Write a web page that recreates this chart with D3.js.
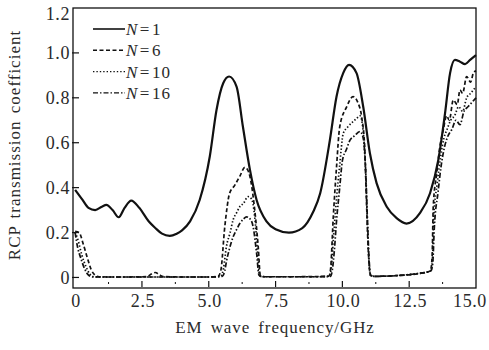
<!DOCTYPE html>
<html>
<head>
<meta charset="utf-8">
<script src="https://cdn.jsdelivr.net/npm/d3@7"></script>
<style>
  body { margin: 0; background: #fff; }
</style>
</head>
<body>
<svg id="chart" width="489" height="350" font-family="'Liberation Serif', 'Times New Roman', Times, serif"></svg>
<script>
// N=1 (solid)
const freq1 = [0,0.25,0.5,0.75,1.0,1.17,1.4,1.63,1.85,2.1,2.4,2.75,3.0,3.25,3.54,3.8,4.0,4.3,4.66,5.04,5.29,5.54,5.76,6.04,6.28,6.54,6.79,7.16,7.5,8.0,8.5,8.9,9.17,9.53,9.78,10.03,10.25,10.53,10.78,11.03,11.28,11.66,12.03,12.4,12.9,13.28,13.59,13.84,14.03,14.21,14.4,14.59,14.78,15];
const val1 = [0.39,0.35,0.31,0.30,0.315,0.323,0.30,0.268,0.31,0.342,0.31,0.25,0.22,0.195,0.185,0.195,0.21,0.25,0.345,0.54,0.746,0.865,0.895,0.85,0.67,0.48,0.345,0.25,0.215,0.2,0.22,0.29,0.375,0.61,0.805,0.91,0.947,0.91,0.76,0.553,0.42,0.315,0.264,0.24,0.286,0.375,0.523,0.73,0.91,0.969,0.961,0.95,0.969,0.99];

// N=6 (dashed)
const freq6 = [0,0.15,0.3,0.45,0.6,0.75,0.9,1.2,2.0,2.7,2.85,3.0,3.15,3.3,4.0,5.0,5.35,5.45,5.6,5.78,5.97,6.16,6.35,6.45,6.54,6.72,6.85,6.93,7.1,8.0,9.0,9.5,9.56,9.66,9.78,9.9,10.16,10.4,10.59,10.72,10.84,10.9,10.97,11.05,11.2,12.0,13.0,13.3,13.36,13.4,13.53,13.65,13.78,13.9,14.0,14.15,14.3,14.4,14.5,14.65,14.8,14.9,15];
const val6 = [0.205,0.2,0.15,0.09,0.035,0.01,0.003,0.002,0.002,0.004,0.015,0.022,0.012,0.004,0.002,0.002,0.005,0.03,0.226,0.375,0.41,0.45,0.49,0.48,0.45,0.3,0.137,0.01,0.003,0.003,0.004,0.006,0.04,0.27,0.49,0.67,0.76,0.805,0.776,0.716,0.568,0.345,0.12,0.01,0.005,0.008,0.02,0.03,0.1,0.315,0.464,0.583,0.66,0.72,0.70,0.79,0.77,0.835,0.82,0.894,0.87,0.91,0.92];

// N=10 (dotted)
const freq10 = [0,0.1,0.25,0.4,0.55,0.7,1.0,5.0,5.45,5.55,5.66,5.8,5.91,6.05,6.16,6.3,6.47,6.6,6.72,6.82,6.9,7.0,9.0,9.5,9.57,9.68,9.78,9.9,10.03,10.2,10.4,10.55,10.66,10.75,10.85,10.92,10.98,11.05,11.2,13.0,13.3,13.37,13.42,13.55,13.68,13.8,13.92,14.05,14.2,14.35,14.5,14.65,14.8,15];
const val10 = [0.2,0.17,0.1,0.05,0.015,0.003,0.002,0.002,0.005,0.04,0.137,0.2,0.256,0.29,0.315,0.33,0.36,0.35,0.27,0.12,0.01,0.003,0.003,0.005,0.03,0.2,0.35,0.5,0.64,0.67,0.694,0.71,0.72,0.68,0.52,0.3,0.1,0.01,0.005,0.02,0.03,0.08,0.27,0.42,0.54,0.62,0.66,0.7,0.72,0.76,0.74,0.8,0.82,0.85];

// N=16 (dash-dot)
const freq16 = [0,0.1,0.2,0.35,0.5,0.65,1.0,5.0,5.5,5.6,5.66,5.78,5.91,6.05,6.16,6.3,6.41,6.55,6.66,6.79,6.88,7.0,9.0,9.55,9.62,9.7,9.78,9.9,10.0,10.15,10.28,10.45,10.66,10.78,10.87,10.94,11.0,11.06,11.2,13.0,13.32,13.38,13.44,13.58,13.7,13.82,13.95,14.1,14.25,14.4,14.55,14.7,14.85,15];
const val16 = [0.2,0.13,0.09,0.04,0.01,0.002,0.002,0.002,0.005,0.03,0.07,0.13,0.18,0.215,0.24,0.26,0.27,0.26,0.226,0.108,0.01,0.003,0.003,0.005,0.03,0.12,0.25,0.4,0.52,0.57,0.61,0.63,0.65,0.62,0.48,0.25,0.08,0.01,0.005,0.02,0.03,0.06,0.22,0.38,0.5,0.58,0.63,0.66,0.7,0.68,0.74,0.76,0.78,0.8];

const xTicks = [0, 2.5, 5.0, 7.5, 10.0, 12.5, 15.0];
const xMinorTicks = [1.25, 3.75, 6.25, 8.75, 11.25, 13.75];
const yTicks = [0, 0.2, 0.4, 0.6, 0.8, 1.0, 1.2];
const legendNames = ["1", "6", "10", "16"];

const plotLeft = 73, plotRight = 476, plotTop = 8, plotBottom = 288;
const textColor = "#2a2a2a";

const svg = d3.select("#chart");

const x = d3.scaleLinear().domain([-0.08, 15]).range([plotLeft, plotRight]);
const y = d3.scaleLinear().domain([-0.047, 1.2]).range([plotBottom, plotTop]);

const series = [
  { name: legendNames[0], f: freq1, v: val1, dash: null, w: 2.2 },
  { name: legendNames[1], f: freq6, v: val6, dash: "4,2.5", w: 1.7 },
  { name: legendNames[2], f: freq10, v: val10, dash: "1.4,2", w: 1.7 },
  { name: legendNames[3], f: freq16, v: val16, dash: "5,2,1.5,2", w: 1.7 }
];

const line = d3.line()
  .x(d => x(d[0]))
  .y(d => y(d[1]))
  .curve(d3.curveMonotoneX);

// curves (noisy ones first, solid on top)
const curves = svg.append("g");
series.slice().reverse().forEach(s => {
  curves.append("path")
    .datum(d3.zip(s.f, s.v))
    .attr("d", line)
    .attr("fill", "none")
    .attr("stroke", "#111")
    .attr("stroke-width", s.w)
    .attr("stroke-dasharray", s.dash);
});

// frame
svg.append("rect")
  .attr("x", plotLeft).attr("y", plotTop)
  .attr("width", plotRight - plotLeft).attr("height", plotBottom - plotTop)
  .attr("fill", "none").attr("stroke", "#111").attr("stroke-width", 1.3);

// y axis ticks + labels
const yAxis = svg.append("g");
yTicks.forEach(t => {
  if (t < 1.2) {
    yAxis.append("line")
      .attr("x1", plotLeft - 1).attr("x2", plotLeft + 6)
      .attr("y1", y(t)).attr("y2", y(t))
      .attr("stroke", "#111").attr("stroke-width", 1.2);
  }
  yAxis.append("text")
    .attr("x", 70)
    .attr("y", t === 1.2 ? y(t) + 6 : y(t))
    .attr("dy", "0.35em")
    .attr("text-anchor", "end")
    .attr("fill", textColor)
    .attr("font-size", 18)
    .attr("letter-spacing", 0.6)
    .text(t === 0 ? "0" : d3.format(".1f")(t));
});

// x axis ticks + labels
const xAxis = svg.append("g");
xTicks.slice(1, -1).forEach(t => {
  xAxis.append("line")
    .attr("x1", x(t)).attr("x2", x(t))
    .attr("y1", plotBottom - 1).attr("y2", plotBottom - 7)
    .attr("stroke", "#111").attr("stroke-width", 1.2);
});
xMinorTicks.forEach(t => {
  xAxis.append("line")
    .attr("x1", x(t)).attr("x2", x(t))
    .attr("y1", plotBottom - 4).attr("y2", plotBottom - 6)
    .attr("stroke", "#111").attr("stroke-width", 1);
});
xTicks.forEach(t => {
  xAxis.append("text")
    .attr("x", t === 15 ? x(t) - 6 : x(t) + 1)
    .attr("y", 307)
    .attr("text-anchor", "middle")
    .attr("fill", textColor)
    .attr("font-size", 18)
    .attr("letter-spacing", 0.6)
    .text(t === 0 ? "0" : d3.format(".1f")(t));
});

// axis titles
svg.append("text")
  .attr("x", 275).attr("y", 333)
  .attr("text-anchor", "middle")
  .attr("fill", textColor)
  .attr("font-size", 17)
  .attr("letter-spacing", 0.9)
  .attr("word-spacing", 3)
  .text("EM wave frequency/GHz");

svg.append("text")
  .attr("transform", "translate(20,145) rotate(-90)")
  .attr("text-anchor", "middle")
  .attr("fill", textColor)
  .attr("font-size", 17)
  .attr("letter-spacing", 1)
  .attr("word-spacing", 2)
  .text("RCP transmission coefficient");

// legend
const legend = svg.append("g");
series.forEach((s, i) => {
  const ly = 29 + i * 21.3;
  legend.append("line")
    .attr("x1", 93).attr("x2", 125)
    .attr("y1", ly).attr("y2", ly)
    .attr("stroke", "#111")
    .attr("stroke-width", s.w > 2 ? 1.6 : 1.4)
    .attr("stroke-dasharray", s.dash);
  const t = legend.append("text")
    .attr("x", 126).attr("y", ly + 6)
    .attr("fill", textColor)
    .attr("font-size", 17)
    .attr("letter-spacing", 1);
  t.append("tspan").attr("font-style", "italic").text("N");
  t.append("tspan").attr("dx", 1.5).text("=");
  t.append("tspan").attr("dx", 1.5).text(s.name);
});
</script>
</body>
</html>
